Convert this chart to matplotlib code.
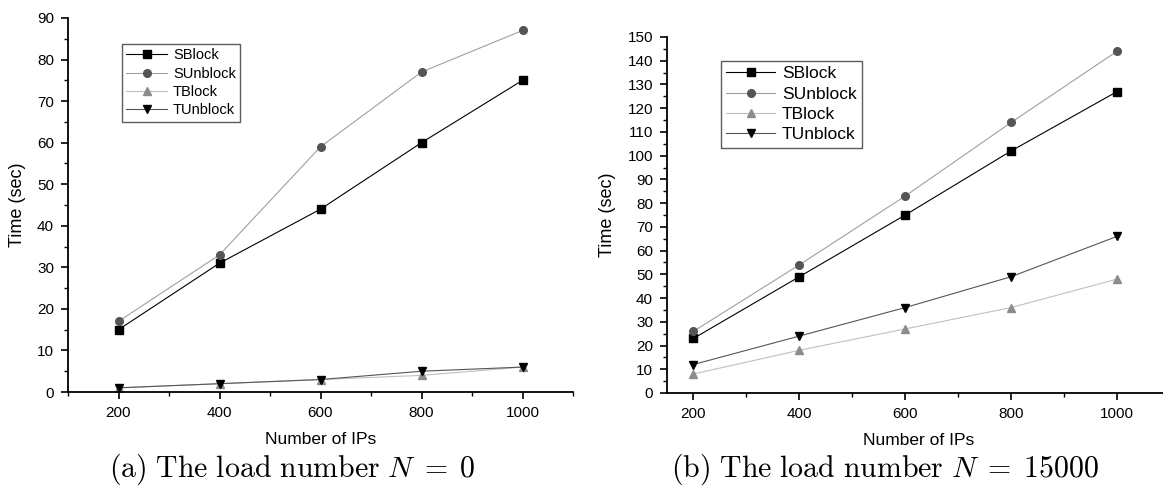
import matplotlib
matplotlib.use('Agg')
import matplotlib.pyplot as plt
from matplotlib.ticker import MultipleLocator

plt.rcParams['font.family'] = ['Liberation Sans', 'DejaVu Sans']
plt.rcParams['mathtext.fontset'] = 'cm'

ips = [200, 400, 600, 800, 1000]
names = ['SBlock', 'SUnblock', 'TBlock', 'TUnblock']

# panel (a): load number N = 0
a_sblock = [15, 31, 44, 60, 75]
a_sunblock = [17, 33, 59, 77, 87]
a_tblock = [1, 2, 3, 4, 6]
a_tunblock = [1, 2, 3, 5, 6]

# panel (b): load number N = 15000
b_sblock = [23, 49, 75, 102, 127]
b_sunblock = [26, 54, 83, 114, 144]
b_tblock = [8, 18, 27, 36, 48]
b_tunblock = [12, 24, 36, 49, 66]

styles = [
    dict(marker='s', color='black', mfc='black', mec='black'),
    dict(marker='o', color='#a0a0a0', mfc='#555555', mec='#555555'),
    dict(marker='^', color='#c0c0c0', mfc='#8c8c8c', mec='#8c8c8c'),
    dict(marker='v', color='#555555', mfc='black', mec='black'),
]

fig = plt.figure(figsize=(11.63, 4.88), dpi=100)
W, H = 1163.0, 488.0
ax1 = fig.add_axes([68 / W, (H - 392) / H, (573 - 68) / W, (392 - 18) / H])
ax2 = fig.add_axes([667 / W, (H - 393) / H, (1170 - 667) / W, (393 - 37) / H])


def draw(ax, series, ymax, xmin, leg_anchor, leg_size, ylab_x):
    for name, ys, st in zip(names, series, styles):
        ax.plot(ips, ys, lw=0.8, ms=5.5, label=name, **st)
    ax.set_xlim(xmin, 1100)
    ax.set_ylim(0, ymax)
    ax.xaxis.set_major_locator(MultipleLocator(200))
    ax.xaxis.set_minor_locator(MultipleLocator(100))
    ax.yaxis.set_major_locator(MultipleLocator(10))
    ax.yaxis.set_minor_locator(MultipleLocator(5))
    ax.spines['top'].set_visible(False)
    ax.spines['right'].set_visible(False)
    for s in ['left', 'bottom']:
        ax.spines[s].set_linewidth(1.3)
    ax.tick_params(which='major', direction='out', length=5, width=1.2, labelsize=11, pad=5, colors='black')
    ax.tick_params(which='minor', direction='out', length=3, width=1.0)
    ax.set_xlabel('Number of IPs', fontsize=12.5, labelpad=9)
    ax.set_ylabel('Time (sec)', fontsize=13)
    ax.yaxis.set_label_coords(ylab_x, 0.5)
    leg = ax.legend(loc='upper left', bbox_to_anchor=leg_anchor, fontsize=leg_size,
                    frameon=True, fancybox=False, edgecolor='#333333', handlelength=2.8,
                    handletextpad=0.4, borderpad=0.3, labelspacing=0.3, borderaxespad=0)
    leg.get_frame().set_linewidth(1.0)


draw(ax1, [a_sblock, a_sunblock, a_tblock, a_tunblock], 90, 100,
     ((122 - 68) / 505.0, (392 - 44) / 374.0), 10.5, -0.083)
draw(ax2, [b_sblock, b_sunblock, b_tblock, b_tunblock], 150, 150,
     ((721 - 667) / 503.0, (393 - 61) / 356.0), 12.5, -0.101)

fig.text(292 / W, 1 - 477 / H, r'$\mathrm{(a)\ The\ load\ number}\ N\;=\;0$',
         ha='center', va='baseline', fontsize=21.5)
fig.text(885 / W, 1 - 477 / H, r'$\mathrm{(b)\ The\ load\ number}\ N\;=\;15000$',
         ha='center', va='baseline', fontsize=21.5)

fig.savefig('out.png', dpi=100)
